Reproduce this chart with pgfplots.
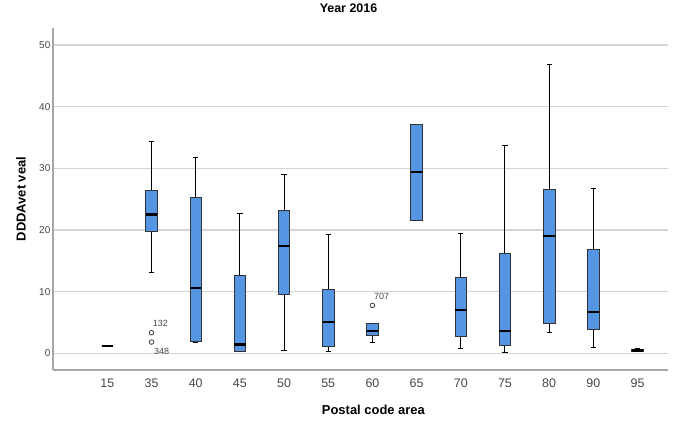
\documentclass[border=0pt]{standalone}
\usepackage{pgfplots}
\pgfplotsset{compat=1.18}
\usepgfplotslibrary{statistics}
\usepackage{fontspec}
\setmainfont{Liberation Sans}
\definecolor{boxblue}{RGB}{84,149,228}
\definecolor{boxedge}{RGB}{50,50,50}
\definecolor{ticktext}{RGB}{70,70,70}
\begin{document}
\begin{tikzpicture}
\begin{axis}[
  name=ax,
  scale only axis,
  width=615bp, height=342bp,
  xmin=-1.23, xmax=12.69,
  ymin=-2.7, ymax=52.75,
  xtick={0,...,12},
  xticklabels={15,35,40,45,50,55,60,65,70,75,80,90,95},
  ytick={0,10,20,30,40,50},
  major tick length=0pt,
  axis x line*=bottom,
  axis y line*=left,
  axis line style={-, draw=black!35, line width=1.2bp},
  ymajorgrids,
  grid style={draw=black!17, line width=1.1bp},
  /pgf/number format/assume math mode=true,
  xticklabel style={anchor=center, yshift=-13bp, font=\fontsize{12.5}{14}\selectfont, text=ticktext},
  yticklabel style={font=\fontsize{10}{12}\selectfont, text=ticktext, inner sep=2.5bp},
  title={Year 2016},
  title style={at={(axis description cs:0.4805,1.041)}, anchor=center, font=\bfseries\fontsize{12.5}{14}\selectfont},
  xlabel={Postal code area},
  xlabel style={at={(axis description cs:0.521,-0.117)}, anchor=center, font=\bfseries\fontsize{13}{15}\selectfont},
  ylabel={DDDAvet veal},
  ylabel style={at={(axis description cs:-0.052,0.5)}, anchor=center, font=\bfseries\fontsize{13}{15}\selectfont},
  boxplot/draw direction=y,
  boxplot/box extend=0.26,
  boxplot/whisker extend=0.12,
  boxplot/every box/.style={draw=boxedge, fill=boxblue, line width=0.8bp},
  boxplot/every median/.style={draw=black, line width=2.2bp},
  boxplot/every whisker/.style={draw=black, line width=1bp},
]
% 15
\addplot[boxplot prepared={draw position=0, lower whisker=1.23, lower quartile=1.23, median=1.23, upper quartile=1.23, upper whisker=1.23}] coordinates {};
% 35
\addplot[boxplot prepared={draw position=1, lower whisker=13.07, lower quartile=19.7, median=22.5, upper quartile=26.35, upper whisker=34.3}] coordinates {};
% 40
\addplot[boxplot prepared={draw position=2, lower whisker=1.8, lower quartile=1.9, median=10.6, upper quartile=25.3, upper whisker=31.7}] coordinates {};
% 45
\addplot[boxplot prepared={draw position=3, lower whisker=0.3, lower quartile=0.32, median=1.45, upper quartile=12.6, upper whisker=22.7}] coordinates {};
% 50
\addplot[boxplot prepared={draw position=4, lower whisker=0.48, lower quartile=9.55, median=17.4, upper quartile=23.1, upper whisker=29.0}] coordinates {};
% 55
\addplot[boxplot prepared={draw position=5, lower whisker=0.27, lower quartile=1.13, median=5.07, upper quartile=10.4, upper whisker=19.2}] coordinates {};
% 60
\addplot[boxplot prepared={draw position=6, lower whisker=1.78, lower quartile=2.85, median=3.6, upper quartile=4.8, upper whisker=4.8}] coordinates {};
% 65
\addplot[boxplot prepared={draw position=7, lower whisker=21.6, lower quartile=21.6, median=29.4, upper quartile=37.15, upper whisker=37.15}] coordinates {};
% 70
\addplot[boxplot prepared={draw position=8, lower whisker=0.75, lower quartile=2.7, median=6.97, upper quartile=12.25, upper whisker=19.5}] coordinates {};
% 75
\addplot[boxplot prepared={draw position=9, lower whisker=0.2, lower quartile=1.3, median=3.67, upper quartile=16.2, upper whisker=33.65}] coordinates {};
% 80
\addplot[boxplot prepared={draw position=10, lower whisker=3.35, lower quartile=4.86, median=19.06, upper quartile=26.6, upper whisker=46.8}] coordinates {};
% 90
\addplot[boxplot prepared={draw position=11, lower whisker=0.97, lower quartile=3.83, median=6.75, upper quartile=16.8, upper whisker=26.7}] coordinates {};
% 95
\addplot[boxplot prepared={draw position=12, lower whisker=0.27, lower quartile=0.27, median=0.45, upper quartile=0.7, upper whisker=0.86}] coordinates {};
% outliers
\addplot[only marks, mark=o, mark size=2.3bp, mark options={draw=black!75, line width=0.8bp}] coordinates {(1,3.35) (1,1.83) (6,7.78)};
\node[font=\fontsize{9}{10}\selectfont, text=ticktext] at (axis cs:1.20,4.83) {132};
\node[font=\fontsize{9}{10}\selectfont, text=ticktext] at (axis cs:1.23,0.37) {348};
\node[font=\fontsize{9}{10}\selectfont, text=ticktext] at (axis cs:6.21,9.29) {707};
\end{axis}
\pgfresetboundingbox
\path[use as bounding box] ([shift={(-53bp,-54bp)}]ax.south west) rectangle ([shift={(9bp,28bp)}]ax.north east);
\end{tikzpicture}
\end{document}
